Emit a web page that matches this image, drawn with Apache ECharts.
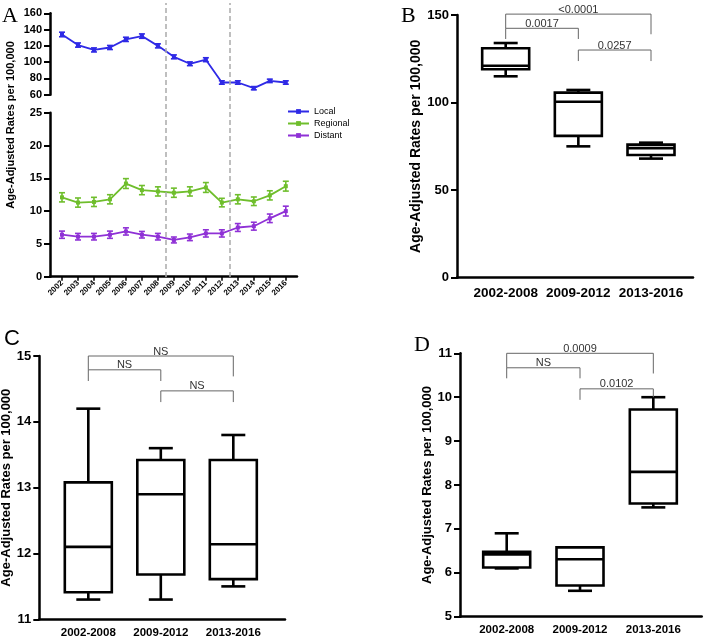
<!DOCTYPE html>
<html>
<head>
<meta charset="utf-8">
<script src="https://cdn.jsdelivr.net/npm/echarts@6/dist/echarts.min.js"></script>
<style>
html, body { margin: 0; padding: 0; background: #fff; }
#main { width: 705px; height: 638px; }
</style>
</head>
<body>
<div id="main"></div>
<script>
// panel A: yearly rates
const years = [2002, 2003, 2004, 2005, 2006, 2007, 2008, 2009, 2010, 2011, 2012, 2013, 2014, 2015, 2016]
const localRates = [134, 121, 115, 118, 128, 132, 120, 106.5, 98, 103, 75, 75, 68, 77, 75]
const localErr = [2.8, 2.6, 2.5, 2.5, 2.6, 2.7, 2.5, 2.4, 2.3, 2.4, 2.1, 2.1, 2.0, 2.1, 2.1]
const regionalRates = [12.1, 11.3, 11.4, 11.8, 14.2, 13.2, 13.0, 12.8, 13.0, 13.6, 11.3, 11.8, 11.5, 12.4, 13.8]
const regionalErr = [0.7, 0.7, 0.7, 0.7, 0.75, 0.7, 0.7, 0.7, 0.7, 0.75, 0.65, 0.7, 0.65, 0.7, 0.75]
const distantRates = [6.4, 6.1, 6.1, 6.4, 6.9, 6.4, 6.1, 5.6, 6.0, 6.6, 6.6, 7.5, 7.7, 8.9, 10.0]
const distantErr = [0.55, 0.5, 0.5, 0.55, 0.55, 0.5, 0.5, 0.45, 0.5, 0.55, 0.55, 0.6, 0.6, 0.65, 0.75]
const periodBreaks = [2008.5, 2012.5]

// panels B-D: [min, Q1, median, Q3, max] per period
const periods = ['2002-2008', '2009-2012', '2013-2016']
const localBoxes = [[115, 119, 121, 131, 134], [75, 81, 100.5, 105.7, 107.2], [68, 70.1, 74, 76, 77.1]]
const regionalBoxes = [[11.3, 11.41, 12.1, 13.08, 14.2], [11.3, 11.68, 12.9, 13.42, 13.6], [11.5, 11.61, 12.14, 13.42, 13.8]]
const distantBoxes = [[6.1, 6.12, 6.42, 6.48, 6.9], [5.59, 5.71, 6.31, 6.58, 6.58], [7.49, 7.58, 8.3, 9.72, 10.0]]

// significance brackets: [from, to, top, left end, right end], labels separately
const localBrackets = [[0, 2, 150.5, 142.4, 139], [0, 1, 142.4, 136.3, 136.3], [1, 2, 130, 123.7, 123.7]]
const localPvals = ['<0.0001', '0.0017', '0.0257']
const regionalBrackets = [[0, 2, 15, 14.79, 14.69], [0, 1, 14.79, 14.62, 14.62], [1, 2, 14.47, 14.3, 14.3]]
const regionalPvals = ['NS', 'NS', 'NS']
const distantBrackets = [[0, 2, 11, 10.67, 10.54], [0, 1, 10.67, 10.43, 10.43], [1, 2, 10.19, 9.94, 10.0]]
const distantPvals = ['0.0009', 'NS', '0.0102']

const colors = { local: '#2f2ae6', regional: '#6fbe2c', distant: '#8f31d6' }
const FONT = 'Liberation Sans'

const chart = echarts.init(document.getElementById('main'))

const pairs = (vals) => years.map((y, i) => [y, vals[i]])
const withErr = (vals, err) => years.map((y, i) => [y, vals[i], err[i]])

function errorBar(color) {
    return function (params, api) {
        const x = api.value(0)
        const v = api.value(1)
        const e = api.value(2)
        const hi = api.coord([x, v + e])
        const lo = api.coord([x, v - e])
        const st = { stroke: color, lineWidth: 1.6 }
        return {
            type: 'group',
            children: [
                { type: 'line', shape: { x1: hi[0], y1: hi[1], x2: lo[0], y2: lo[1] }, style: st },
                { type: 'line', shape: { x1: hi[0] - 3, y1: hi[1], x2: hi[0] + 3, y2: hi[1] }, style: st },
                { type: 'line', shape: { x1: lo[0] - 3, y1: lo[1], x2: lo[0] + 3, y2: lo[1] }, style: st }
            ]
        }
    }
}

function renderBox(params, api) {
    const x = api.value(0)
    const p = [1, 2, 3, 4, 5].map(i => api.coord([x, api.value(i)]))
    const cx = p[0][0]
    const bw = 47, cw = 24
    const st = { stroke: '#000', lineWidth: 2.6, fill: null }
    return {
        type: 'group',
        children: [
            { type: 'line', shape: { x1: cx, y1: p[3][1], x2: cx, y2: p[4][1] }, style: st },
            { type: 'line', shape: { x1: cx, y1: p[1][1], x2: cx, y2: p[0][1] }, style: st },
            { type: 'line', shape: { x1: cx - cw / 2, y1: p[4][1], x2: cx + cw / 2, y2: p[4][1] }, style: st },
            { type: 'line', shape: { x1: cx - cw / 2, y1: p[0][1], x2: cx + cw / 2, y2: p[0][1] }, style: st },
            { type: 'rect', shape: { x: cx - bw / 2, y: p[3][1], width: bw, height: p[1][1] - p[3][1] }, style: { stroke: '#000', lineWidth: 2.6, fill: '#fff' } },
            { type: 'line', shape: { x1: cx - bw / 2, y1: p[2][1], x2: cx + bw / 2, y2: p[2][1] }, style: st }
        ]
    }
}

function bracketRenderer(labels) {
    return function (params, api) {
        const a = api.coord([api.value(0), api.value(3)])
        const b = api.coord([api.value(0), api.value(2)])
        const c = api.coord([api.value(1), api.value(2)])
        const d = api.coord([api.value(1), api.value(4)])
        return {
            type: 'group',
            children: [
                { type: 'polyline', shape: { points: [a, b, c, d] }, style: { stroke: '#666', lineWidth: 1, fill: null } },
                {
                    type: 'text',
                    x: (b[0] + c[0]) / 2,
                    y: b[1] + 1,
                    style: { text: labels[params.dataIndex], textAlign: 'center', textVerticalAlign: 'bottom', fill: '#333', font: '11px ' + FONT }
                }
            ]
        }
    }
}

const boxData = (boxes) => boxes.map((b, i) => [i].concat(b))

const leftAxis = (min, max, interval, size, extra) => Object.assign({
    type: 'value',
    min: min,
    max: max,
    interval: interval,
    splitLine: { show: false },
    axisLine: { show: true, onZero: false, lineStyle: { color: '#000', width: 2.5 } },
    axisTick: { show: true, inside: false, length: 6, lineStyle: { color: '#000', width: 2 } },
    axisLabel: { color: '#000', fontWeight: 'bold', fontSize: size, fontFamily: FONT, margin: 8 },
    nameTextStyle: { color: '#000', fontWeight: 'bold', fontFamily: FONT }
}, extra || {})

const catAxis = (min, max, size, margin) => ({
    type: 'value',
    min: min,
    max: max,
    splitLine: { show: false },
    axisLine: { show: true, onZero: false, lineStyle: { color: '#000', width: 2.5 } },
    axisTick: { show: false },
    axisLabel: {
        customValues: [0, 1, 2],
        formatter: v => periods[Math.round(v)],
        color: '#000', fontWeight: 'bold', fontSize: size, fontFamily: FONT, margin: margin
    }
})

const yTitle = 'Age-Adjusted Rates per 100,000'
const letterStyle = (family) => ({ fontFamily: family, fontWeight: 'normal', fontSize: 22, color: '#000' })

chart.setOption({
    animation: false,
    title: [
        { text: 'A', left: 2, top: 5, padding: 0, textStyle: letterStyle('Liberation Serif') },
        { text: 'B', left: 401, top: 5, padding: 0, textStyle: letterStyle('Liberation Serif') },
        { text: 'C', left: 4, top: 328, padding: 0, textStyle: letterStyle(FONT) },
        { text: 'D', left: 414, top: 334, padding: 0, textStyle: letterStyle('Liberation Serif') }
    ],
    legend: {
        orient: 'vertical',
        left: 287,
        top: 107,
        itemWidth: 21,
        itemHeight: 6,
        itemGap: 3,
        padding: 0,
        textStyle: { fontSize: 9, fontFamily: FONT, color: '#000' },
        data: ['Local', 'Regional', 'Distant']
    },
    graphic: [{
        type: 'text',
        x: 11,
        y: 125,
        rotation: Math.PI / 2,
        style: { text: yTitle, textAlign: 'center', textVerticalAlign: 'middle', font: 'bold 11px ' + FONT, fill: '#000' }
    }],
    grid: [
        { left: 50, top: 13.3, width: 247, height: 81.4, outerBoundsMode: 'none' },
        { left: 50, top: 112.7, width: 247, height: 164, outerBoundsMode: 'none' },
        { left: 50, top: 3, width: 247, height: 274, outerBoundsMode: 'none' },
        { left: 457, top: 15, width: 236, height: 262.7, outerBoundsMode: 'none' },
        { left: 39.3, top: 356, width: 245.7, height: 263.3, outerBoundsMode: 'none' },
        { left: 460, top: 353.3, width: 241.7, height: 263.4, outerBoundsMode: 'none' }
    ],
    xAxis: [
        { gridIndex: 0, type: 'value', min: 2001.25, max: 2016.7, show: false },
        {
            gridIndex: 1, type: 'value', min: 2001.25, max: 2016.7,
            splitLine: { show: false },
            axisLine: { show: true, onZero: false, lineStyle: { color: '#000', width: 2.5 } },
            axisTick: { show: true, customValues: years, length: 4, lineStyle: { color: '#000', width: 1.5 } },
            axisLabel: { customValues: years, formatter: v => String(v), rotate: 45, margin: 5, color: '#000', fontWeight: 'bold', fontSize: 8, fontFamily: FONT }
        },
        { gridIndex: 2, type: 'value', min: 2001.25, max: 2016.7, show: false },
        Object.assign({ gridIndex: 3 }, catAxis(-0.67, 2.578, 13.5, 9)),
        Object.assign({ gridIndex: 4 }, catAxis(-0.676, 2.713, 11.5, 8)),
        Object.assign({ gridIndex: 5 }, catAxis(-0.637, 2.66, 11.5, 7))
    ],
    yAxis: [
        Object.assign({ gridIndex: 0 }, leftAxis(60, 160, 20, 11)),
        Object.assign({ gridIndex: 1 }, leftAxis(0, 25, 5, 11)),
        { gridIndex: 2, type: 'value', min: 0, max: 1, show: false },
        Object.assign({ gridIndex: 3 }, leftAxis(0, 150, 50, 13, { name: yTitle, nameLocation: 'middle', nameGap: 32, nameTextStyle: { color: '#000', fontWeight: 'bold', fontSize: 14, fontFamily: FONT } })),
        Object.assign({ gridIndex: 4 }, leftAxis(11, 15, 1, 13, { name: yTitle, nameLocation: 'middle', nameGap: 23, nameTextStyle: { color: '#000', fontWeight: 'bold', fontSize: 13, fontFamily: FONT } })),
        Object.assign({ gridIndex: 5 }, leftAxis(5, 11, 1, 13, { name: yTitle, nameLocation: 'middle', nameGap: 23.5, nameTextStyle: { color: '#000', fontWeight: 'bold', fontSize: 13, fontFamily: FONT } }))
    ],
    series: [
        // dashed period dividers
        {
            type: 'line', xAxisIndex: 2, yAxisIndex: 2, data: [], silent: true,
            markLine: {
                symbol: 'none', silent: true, label: { show: false },
                lineStyle: { type: [5, 3], color: '#aaa', width: 1.5 },
                data: periodBreaks.map(x => ({ xAxis: x }))
            }
        },
        { name: 'Local', type: 'line', xAxisIndex: 0, yAxisIndex: 0, data: pairs(localRates), color: colors.local, symbol: 'rect', symbolSize: 4, lineStyle: { width: 1.8 } },
        { type: 'custom', xAxisIndex: 0, yAxisIndex: 0, data: withErr(localRates, localErr), renderItem: errorBar(colors.local), encode: { x: 0, y: 1 } },
        { name: 'Regional', type: 'line', xAxisIndex: 1, yAxisIndex: 1, data: pairs(regionalRates), color: colors.regional, symbol: 'rect', symbolSize: 4, lineStyle: { width: 1.8 } },
        { type: 'custom', xAxisIndex: 1, yAxisIndex: 1, data: withErr(regionalRates, regionalErr), renderItem: errorBar(colors.regional), encode: { x: 0, y: 1 } },
        { name: 'Distant', type: 'line', xAxisIndex: 1, yAxisIndex: 1, data: pairs(distantRates), color: colors.distant, symbol: 'rect', symbolSize: 4, lineStyle: { width: 1.8 } },
        { type: 'custom', xAxisIndex: 1, yAxisIndex: 1, data: withErr(distantRates, distantErr), renderItem: errorBar(colors.distant), encode: { x: 0, y: 1 } },
        // box plots
        { type: 'custom', xAxisIndex: 3, yAxisIndex: 3, data: boxData(localBoxes), renderItem: renderBox, encode: { x: 0, y: [1, 2, 3, 4, 5] } },
        { type: 'custom', xAxisIndex: 4, yAxisIndex: 4, data: boxData(regionalBoxes), renderItem: renderBox, encode: { x: 0, y: [1, 2, 3, 4, 5] } },
        { type: 'custom', xAxisIndex: 5, yAxisIndex: 5, data: boxData(distantBoxes), renderItem: renderBox, encode: { x: 0, y: [1, 2, 3, 4, 5] } },
        // significance brackets
        { type: 'custom', xAxisIndex: 3, yAxisIndex: 3, data: localBrackets, renderItem: bracketRenderer(localPvals), encode: { x: [0, 1], y: [2, 3, 4] } },
        { type: 'custom', xAxisIndex: 4, yAxisIndex: 4, data: regionalBrackets, renderItem: bracketRenderer(regionalPvals), encode: { x: [0, 1], y: [2, 3, 4] } },
        { type: 'custom', xAxisIndex: 5, yAxisIndex: 5, data: distantBrackets, renderItem: bracketRenderer(distantPvals), encode: { x: [0, 1], y: [2, 3, 4] } }
    ]
})
</script>
</body>
</html>
